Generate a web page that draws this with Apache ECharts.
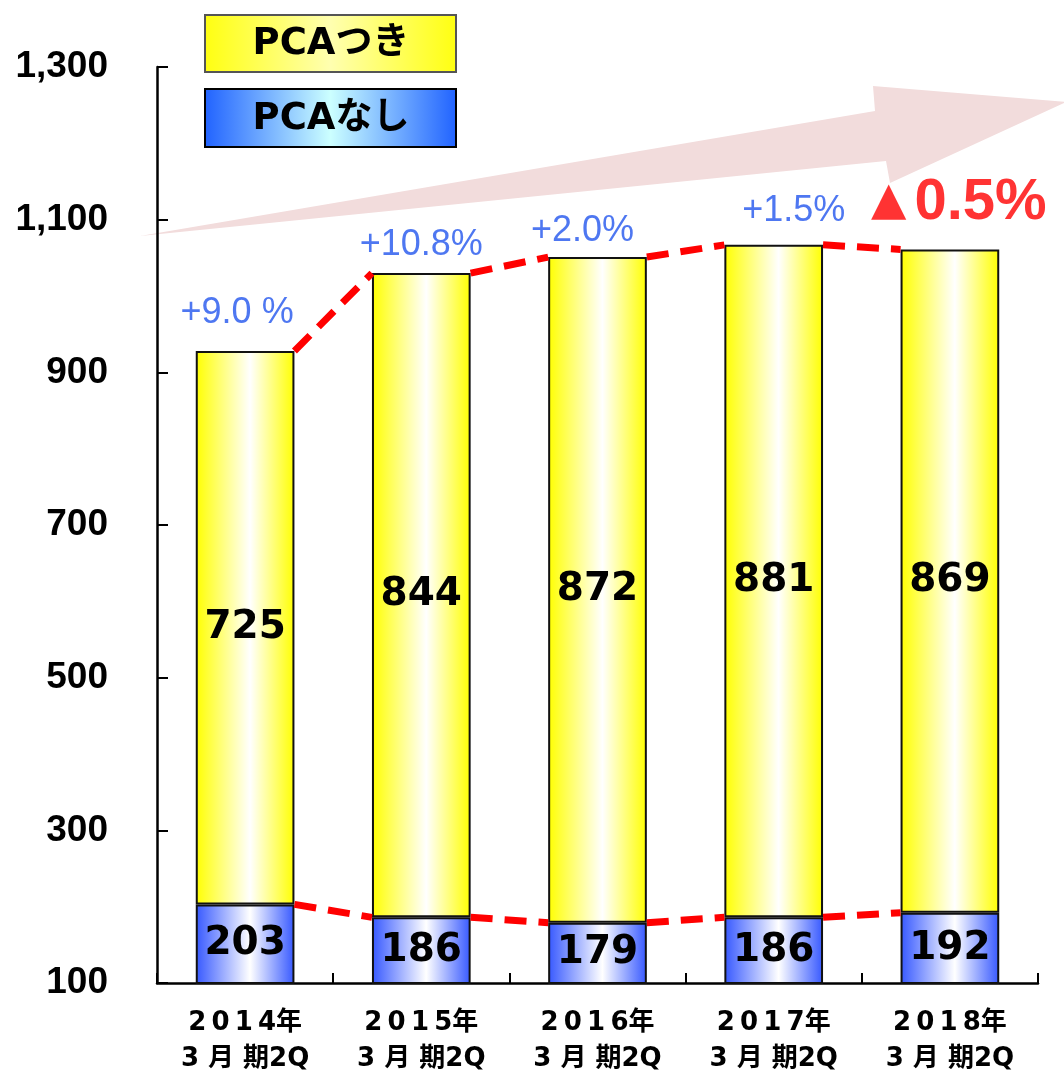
<!DOCTYPE html>
<html>
<head>
<meta charset="utf-8">
<script src="https://cdn.jsdelivr.net/npm/echarts@6/dist/echarts.min.js"></script>
<style>html,body{margin:0;padding:0;background:#fff;}#chart{width:1064px;height:1077px;}</style>
</head>
<body>
<div id="chart"></div>
<script>
// ---- data ----
var categories = ['2\u20090\u20091\u20094年\n3 月 期2Q', '2\u20090\u20091\u20095年\n3 月 期2Q', '2\u20090\u20091\u20096年\n3 月 期2Q', '2\u20090\u20091\u20097年\n3 月 期2Q', '2\u20090\u20091\u20098年\n3 月 期2Q'];
var withPCA = [725, 844, 872, 881, 869];      // PCAつき
var withoutPCA = [203, 186, 179, 186, 192];   // PCAなし
var growthLabels = ['+9.0 %', '+10.8%', '+2.0%', '+1.5%', '▲0.5%'];
var yTicks = [100, 300, 500, 700, 900, 1100, 1300];

// ---- derived ----
var totals = withPCA.map(function (v, i) { return v + withoutPCA[i]; });
var barFrac = 0.56; // bar width as a fraction of category
var half = barFrac / 2;
function connectors(vals) {
  var out = [];
  for (var i = 0; i < vals.length - 1; i++) {
    out.push({ coords: [[i + 0.5 + half, vals[i]], [i + 1.5 - half, vals[i + 1]]] });
  }
  return out;
}
var labelOffsets = [[-8, -38], [0, -28], [-15, -26], [20, -34], [9, -46]];
var growthData = totals.map(function (t, i) {
  var txt = growthLabels[i];
  var item = { value: t, label: { formatter: txt, offset: labelOffsets[i] } };
  if (txt.charAt(0) === '▲') {
    item.label.formatter = '{tri|▲}{num|' + txt.slice(1) + '}';
    item.label.rich = {
      tri: { fontFamily: 'DejaVu Sans', fontSize: 46, color: '#ff0000', padding: [0, 8, 2, 0] },
      num: { fontFamily: 'Liberation Sans', fontSize: 58, fontWeight: 'bold', color: '#ff0000' }
    };
  }
  return item;
});

var chart = echarts.init(document.getElementById('chart'), null, { renderer: 'canvas' });
var G = echarts.graphic;
var yellowGrad = new G.LinearGradient(0, 0, 1, 0, [
  { offset: 0, color: '#ffff00' }, { offset: 0.55, color: '#ffffff' }, { offset: 1, color: '#ffff00' }]);
var blueGrad = new G.LinearGradient(0, 0, 1, 0, [
  { offset: 0, color: '#3658ff' }, { offset: 0.55, color: '#ffffff' }, { offset: 1, color: '#3658ff' }]);

chart.setOption({
  animation: false,
  backgroundColor: '#ffffff',
  grid: { left: 157, right: 26, top: 67, bottom: 88, containLabel: false },
  graphic: [
    { type: 'polygon', z: -10, silent: true,
      shape: { points: [[140, 236], [875, 111], [873, 86], [1066, 102], [890, 183], [886, 161]] },
      style: { fill: '#f2dcdc' } },
    { type: 'rect', z: 10, shape: { x: 205, y: 15, width: 251, height: 57 },
      style: { fill: new G.LinearGradient(0, 0, 1, 0, [
        { offset: 0, color: '#ffff10' }, { offset: 0.5, color: '#ffffb0' }, { offset: 1, color: '#ffff10' }]),
        stroke: '#555', lineWidth: 2 } },
    { type: 'text', z: 11, x: 331, y: 44,
      style: { text: 'PCAつき', fontFamily: 'DejaVu Sans, Noto Sans CJK JP', fontWeight: 'bold', fontSize: 37,
        fill: '#000', align: 'center', verticalAlign: 'middle' } },
    { type: 'rect', z: 10, shape: { x: 205, y: 89, width: 251, height: 58 },
      style: { fill: new G.LinearGradient(0, 0, 1, 0, [
        { offset: 0, color: '#2062ff' }, { offset: 0.5, color: '#ccffff' }, { offset: 1, color: '#2062ff' }]),
        stroke: '#000', lineWidth: 2 } },
    { type: 'text', z: 11, x: 331, y: 119,
      style: { text: 'PCAなし', fontFamily: 'DejaVu Sans, Noto Sans CJK JP', fontWeight: 'bold', fontSize: 37,
        fill: '#000', align: 'center', verticalAlign: 'middle' } }
  ],
  xAxis: [
    { type: 'category', data: categories, boundaryGap: true,
      axisLine: { lineStyle: { color: '#000', width: 2.5 } },
      axisTick: { show: true, inside: true, length: 10, interval: 0, lineStyle: { color: '#000', width: 2 } },
      axisLabel: { interval: 0, margin: 22, color: '#000', fontFamily: 'DejaVu Sans, Noto Sans CJK JP', fontWeight: 'bold',
        fontSize: 26, lineHeight: 36 },
      splitLine: { show: false } },
    { type: 'value', min: 0, max: categories.length, show: false, gridIndex: 0 }
  ],
  yAxis: {
    type: 'value', min: yTicks[0], max: yTicks[yTicks.length - 1], interval: 200,
    axisLine: { show: true, lineStyle: { color: '#000', width: 2.5 } },
    axisTick: { show: true, inside: true, length: 11, lineStyle: { color: '#000', width: 2 } },
    splitLine: { show: false },
    axisLabel: { margin: 49, color: '#000', fontFamily: 'Liberation Sans', fontWeight: 'bold', fontSize: 37,
      formatter: function (v) { return String(v).replace(/\B(?=(\d{3})+(?!\d))/g, ','); } }
  },
  series: [
    { name: 'PCAなし', type: 'bar', stack: 'total', data: withoutPCA, barWidth: (barFrac * 100) + '%', z: 2,
      itemStyle: { color: blueGrad, borderColor: '#111', borderWidth: 2 },
      label: { show: true, position: 'inside', color: '#000', fontFamily: 'DejaVu Sans', fontWeight: 'bold', fontSize: 39 } },
    { name: 'PCAつき', type: 'bar', stack: 'total', data: withPCA, z: 2,
      itemStyle: { color: yellowGrad, borderColor: '#111', borderWidth: 2 },
      label: { show: true, position: 'inside', color: '#000', fontFamily: 'DejaVu Sans', fontWeight: 'bold', fontSize: 39 } },
    { name: 'totalLine', type: 'lines', coordinateSystem: 'cartesian2d', xAxisIndex: 1, yAxisIndex: 0, z: 5,
      data: connectors(totals), symbol: 'none', silent: true,
      lineStyle: { color: '#ff0000', width: 7, type: [22, 12], opacity: 1, curveness: 0 } },
    { name: 'baseLine', type: 'lines', coordinateSystem: 'cartesian2d', xAxisIndex: 1, yAxisIndex: 0, z: 5,
      data: connectors(withoutPCA), symbol: 'none', silent: true,
      lineStyle: { color: '#ff0000', width: 7, type: [22, 12], opacity: 1, curveness: 0 } },
    { name: 'growth', type: 'scatter', data: growthData, symbolSize: 0, z: 6, silent: true,
      label: { show: true, position: 'inside', color: '#2255ee', fontFamily: 'Liberation Sans', fontSize: 36 } }
  ]
});
</script>
</body>
</html>
